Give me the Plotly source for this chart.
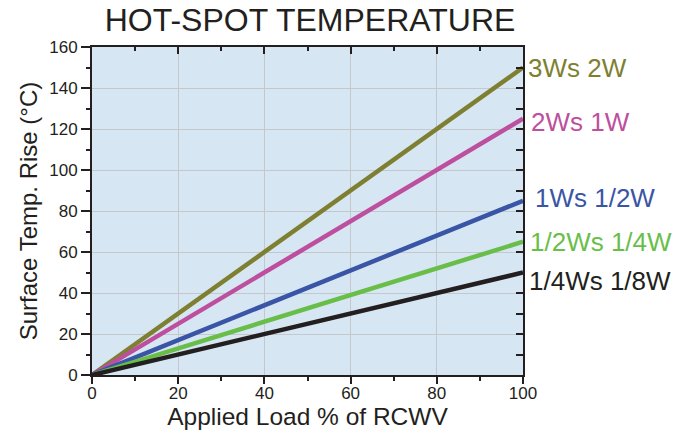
import plotly.graph_objects as go

# ---- data ----
load_pct = [0, 100]
series_names = ["3Ws 2W", "2Ws 1W", "1Ws 1/2W", "1/2Ws 1/4W", "1/4Ws 1/8W"]
rise_3w = [0, 150]
rise_2w = [0, 125]
rise_1w = [0, 85]
rise_half = [0, 65]
rise_quarter = [0, 50]
x_ticks = [0, 20, 40, 60, 80, 100]
y_ticks = [0, 20, 40, 60, 80, 100, 120, 140, 160]

series_values = [rise_3w, rise_2w, rise_1w, rise_half, rise_quarter]
colors = ["#7f7f32", "#bd4f9e", "#3a55a5", "#69be4a", "#231f20"]
label_xshift = [3, 6, 10, 5, 4]
label_yshift = [0, -3, 3, 0, -8]

FONT = "Liberation Sans, Arial, Helvetica, sans-serif"
INK = "#231f20"

fig = go.Figure()
for name, vals, col in zip(series_names, series_values, colors):
    fig.add_trace(go.Scatter(x=load_pct, y=vals, mode="lines", name=name,
                             line=dict(color=col, width=4.5), showlegend=False,
                             hoverinfo="skip"))
for name, vals, col, xs, ys in zip(series_names, series_values, colors, label_xshift, label_yshift):
    fig.add_annotation(x=load_pct[-1], y=vals[-1], xref="x", yref="y", text=name,
                       showarrow=False, xanchor="left", yanchor="middle",
                       xshift=xs, yshift=ys,
                       font=dict(family=FONT, size=26, color=col))

fig.update_layout(
    width=684, height=433,
    margin=dict(l=92, r=161, t=47, b=58, autoexpand=False),
    paper_bgcolor="white", plot_bgcolor="#d6e7f3",
    font=dict(family=FONT, color=INK),
    title=dict(text="HOT-SPOT TEMPERATURE", x=310 / 684, xref="container", xanchor="center",
               y=1 - 20 / 433, yref="container", yanchor="middle", automargin=False,
               font=dict(family=FONT, size=32, color=INK)),
    xaxis=dict(range=[0, 100], tickvals=x_ticks, showgrid=True, gridcolor="#c4c8cc", gridwidth=1,
               zeroline=False, showline=True, linecolor=INK, linewidth=2, automargin=True,
               ticks="outside", ticklen=7, tickwidth=1.5, tickcolor=INK, ticklabelstandoff=-5,
               minor=dict(dtick=10, ticks="outside", ticklen=4, tickwidth=1.5, tickcolor=INK, showgrid=False),
               tickfont=dict(size=17, color=INK),
               title=dict(text="Applied Load % of RCWV", font=dict(size=24.5, color=INK), standoff=3)),
    yaxis=dict(range=[0, 160], tickvals=y_ticks, showgrid=True, gridcolor="#c4c8cc", gridwidth=1,
               zeroline=False, showline=True, linecolor=INK, linewidth=2, automargin=True,
               ticks="outside", ticklen=9, tickwidth=1.5, tickcolor=INK,
               minor=dict(dtick=10, ticks="outside", ticklen=4, tickwidth=1.5, tickcolor=INK, showgrid=False),
               tickfont=dict(size=17, color=INK),
               title=dict(text="Surface Temp. Rise (°C)", font=dict(size=24, color=INK), standoff=5)),
    xaxis2=dict(range=[0, 100], overlaying="x", side="top", anchor="y", showgrid=False, zeroline=False,
                showline=True, linecolor=INK, linewidth=2, tickvals=x_ticks, showticklabels=False,
                ticks="inside", ticklen=7, tickwidth=1.5, tickcolor=INK, automargin=False,
                minor=dict(dtick=10, ticks="inside", ticklen=4, tickwidth=1.5, tickcolor=INK, showgrid=False)),
    yaxis2=dict(range=[0, 160], overlaying="y", side="right", anchor="x", showgrid=False, zeroline=False,
                showline=True, linecolor=INK, linewidth=2, dtick=10, tick0=0, showticklabels=False,
                ticks="inside", ticklen=7, tickwidth=1.5, tickcolor=INK, automargin=False),
)
# invisible trace so overlay axes render
fig.add_trace(go.Scatter(x=[None], y=[None], xaxis="x2", yaxis="y2", showlegend=False, hoverinfo="skip"))

fig.write_html("out.html", config={"displayModeBar": False},
               post_script="document.body.style.margin='0';")
